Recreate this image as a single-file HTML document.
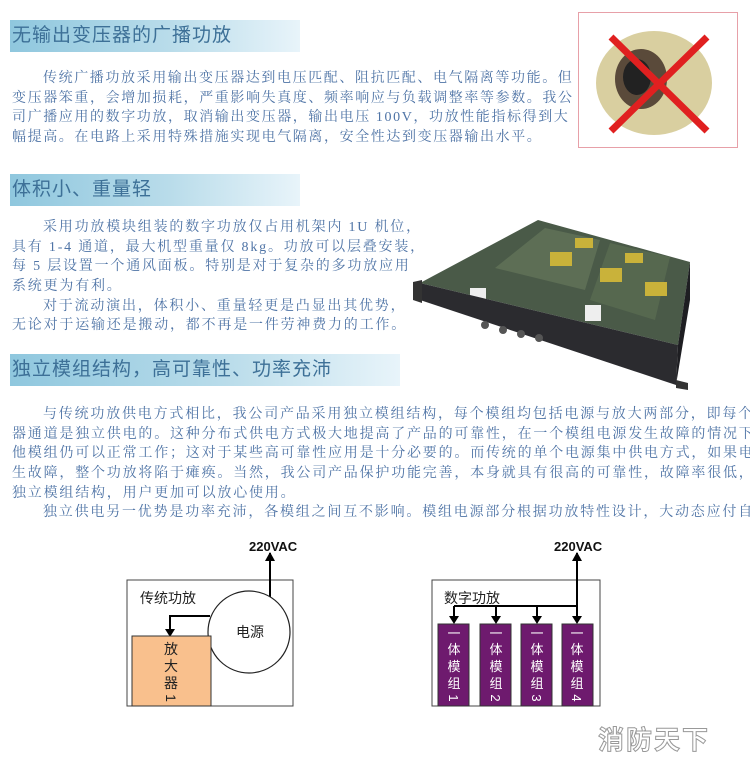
<!DOCTYPE html>
<html><head><meta charset="utf-8"><style>
body{margin:0;width:750px;height:775px;background:#fff;position:relative;overflow:hidden;font-family:"Liberation Serif","Noto Serif CJK SC",serif;}
.h{position:absolute;left:10px;height:32px;background:linear-gradient(90deg,#8fc7de 0%,#b9dcea 55%,#e8f4fa 100%);color:#3d7097;font-size:19px;line-height:32px;padding-left:2px;letter-spacing:1px;font-family:"Liberation Sans","Noto Sans CJK SC",sans-serif;}
.p{position:absolute;left:12px;color:#4f74a6;font-size:14px;letter-spacing:1.8px;white-space:nowrap;}
.p div{height:19.7px;line-height:19.7px;}
.i{text-indent:31px}
.a{position:absolute;}
</style></head><body>
<div class="h" style="top:20px;width:288px;">无输出变压器的广播功放</div>
<div class="p" style="top:69px;letter-spacing:1.6px">
<div class="i">传统广播功放采用输出变压器达到电压匹配、阻抗匹配、电气隔离等功能。但</div>
<div>变压器笨重，会增加损耗，严重影响失真度、频率响应与负载调整率等参数。我公</div>
<div>司广播应用的数字功放，取消输出变压器，输出电压 100V，功放性能指标得到大</div>
<div>幅提高。在电路上采用特殊措施实现电气隔离，安全性达到变压器输出水平。</div>
</div>
<div class="a" style="left:578px;top:12px;width:158px;height:134px;border:1px solid #e7a0a8;background:#fff;overflow:hidden">
<svg width="158" height="134"><ellipse cx="75" cy="70" rx="58" ry="52" fill="#d9cfa0"/><ellipse cx="62" cy="66" rx="26" ry="30" fill="#5a4a3a"/><ellipse cx="58" cy="64" rx="14" ry="18" fill="#222"/><line x1="32" y1="24" x2="128" y2="118" stroke="#e02020" stroke-width="7"/><line x1="128" y1="24" x2="32" y2="118" stroke="#e02020" stroke-width="7"/></svg></div>
<div class="h" style="top:174px;width:288px;">体积小、重量轻</div>
<div class="p" style="top:218px">
<div class="i">采用功放模块组装的数字功放仅占用机架内 1U 机位，</div>
<div>具有 1-4 通道，最大机型重量仅 8kg。功放可以层叠安装，</div>
<div>每 5 层设置一个通风面板。特别是对于复杂的多功放应用</div>
<div>系统更为有利。</div>
<div class="i">对于流动演出，体积小、重量轻更是凸显出其优势，</div>
<div>无论对于运输还是搬动，都不再是一件劳神费力的工作。</div>
</div>
<svg class="a" style="left:0;top:0" width="750" height="400">
<polygon points="538,220 690,262 678,345 420,283" fill="#4a5a48"/>
<polygon points="545,228 600,240 585,290 495,268" fill="#5d6e55"/>
<polygon points="610,243 670,257 655,320 590,300" fill="#56684f"/>
<rect x="550" y="252" width="22" height="14" fill="#c9b23a"/><rect x="600" y="268" width="22" height="14" fill="#c9b23a"/><rect x="645" y="282" width="22" height="14" fill="#c9b23a"/>
<rect x="575" y="238" width="18" height="10" fill="#c9b23a"/><rect x="625" y="253" width="18" height="10" fill="#c9b23a"/>
<rect x="470" y="288" width="16" height="16" fill="#eee"/><rect x="585" y="305" width="16" height="16" fill="#eee"/>
<polygon points="420,283 678,345 676,385 420,300" fill="#2b2b2f"/>
<polygon points="678,345 690,262 690,300 676,385" fill="#1e1e22"/>
<polygon points="413,282 422,280 422,303 413,300" fill="#333"/>
<polygon points="676,380 688,383 688,390 676,388" fill="#333"/>
<g fill="#555"><circle cx="485" cy="325" r="4"/><circle cx="503" cy="330" r="4"/><circle cx="521" cy="334" r="4"/><circle cx="539" cy="338" r="4"/></g>
</svg>
<div class="h" style="top:354px;width:388px;">独立模组结构，高可靠性、功率充沛</div>
<div class="p" style="top:405px">
<div class="i">与传统功放供电方式相比，我公司产品采用独立模组结构，每个模组均包括电源与放大两部分，即每个放大</div>
<div>器通道是独立供电的。这种分布式供电方式极大地提高了产品的可靠性，在一个模组电源发生故障的情况下，其</div>
<div>他模组仍可以正常工作；这对于某些高可靠性应用是十分必要的。而传统的单个电源集中供电方式，如果电源发</div>
<div>生故障，整个功放将陷于瘫痪。当然，我公司产品保护功能完善，本身就具有很高的可靠性，故障率很低，采用</div>
<div>独立模组结构，用户更加可以放心使用。</div>
<div class="i">独立供电另一优势是功率充沛，各模组之间互不影响。模组电源部分根据功放特性设计，大动态应付自如。</div>
</div>
<svg class="a" style="left:0;top:530px" width="750" height="200" font-family="Liberation Sans,Noto Sans CJK SC,sans-serif">
<rect x="127" y="50" width="166" height="126" fill="#fff" stroke="#444" stroke-width="1"/>
<text x="140" y="73" font-size="14" fill="#222">传统功放</text>
<text x="249" y="21" font-size="13" font-weight="bold" fill="#111">220VAC</text>
<path d="M270,76 V23" stroke="#000" stroke-width="2" fill="none"/><path d="M265,31 L270,22 L275,31z"/>
<circle cx="249" cy="102" r="41" fill="#fff" stroke="#222" stroke-width="1.2"/>
<text x="236" y="107" font-size="14" fill="#222">电源</text>
<path d="M210,86 H170 V100" stroke="#000" stroke-width="2" fill="none"/><path d="M165,99 L170,107 L175,99z"/>
<rect x="132" y="106" width="79" height="70" fill="#f9c08d" stroke="#333"/>
<text font-size="14" fill="#222"><tspan x="164" y="124">放</tspan><tspan x="164" y="141">大</tspan><tspan x="164" y="158">器</tspan></text>
<text font-size="14" fill="#222" transform="translate(166,168) rotate(90)" text-anchor="middle">1</text>
<rect x="432" y="50" width="168" height="126" fill="#fff" stroke="#444"/>
<text x="444" y="73" font-size="14" fill="#222">数字功放</text>
<text x="554" y="21" font-size="13" font-weight="bold" fill="#111">220VAC</text>
<path d="M577,90 V23" stroke="#000" stroke-width="2" fill="none"/><path d="M572,31 L577,22 L582,31z"/>
<path d="M454,76 H577" stroke="#000" stroke-width="2" fill="none"/>
<g stroke="#000" stroke-width="2"><path d="M454,76 V88"/><path d="M496,76 V88"/><path d="M537,76 V88"/><path d="M577,76 V88"/></g>
<g><path d="M449,86 L454,94 L459,86z"/><path d="M491,86 L496,94 L501,86z"/><path d="M532,86 L537,94 L542,86z"/><path d="M572,86 L577,94 L582,86z"/></g>
<g fill="#6e1a6e" stroke="#333"><rect x="438" y="94" width="31" height="82"/><rect x="480" y="94" width="31" height="82"/><rect x="521" y="94" width="31" height="82"/><rect x="562" y="94" width="31" height="82"/></g>
<g font-size="13" fill="#fff" text-anchor="middle">
<text><tspan x="454" y="108">一</tspan><tspan x="454" y="124">体</tspan><tspan x="454" y="141">模</tspan><tspan x="454" y="158">组</tspan></text>
<text><tspan x="496" y="108">一</tspan><tspan x="496" y="124">体</tspan><tspan x="496" y="141">模</tspan><tspan x="496" y="158">组</tspan></text>
<text><tspan x="537" y="108">一</tspan><tspan x="537" y="124">体</tspan><tspan x="537" y="141">模</tspan><tspan x="537" y="158">组</tspan></text>
<text><tspan x="577" y="108">一</tspan><tspan x="577" y="124">体</tspan><tspan x="577" y="141">模</tspan><tspan x="577" y="158">组</tspan></text>
<text transform="translate(449,168) rotate(90)">1</text>
<text transform="translate(491,168) rotate(90)">2</text>
<text transform="translate(532,168) rotate(90)">3</text>
<text transform="translate(572,168) rotate(90)">4</text>
</g>
</svg>
<div class="a" style="left:598px;top:720px;font-size:26px;font-weight:bold;color:#fff;-webkit-text-stroke:1px #999;font-family:'Liberation Sans','Noto Sans CJK SC',sans-serif;letter-spacing:2px">消防天下</div>
</body></html>
